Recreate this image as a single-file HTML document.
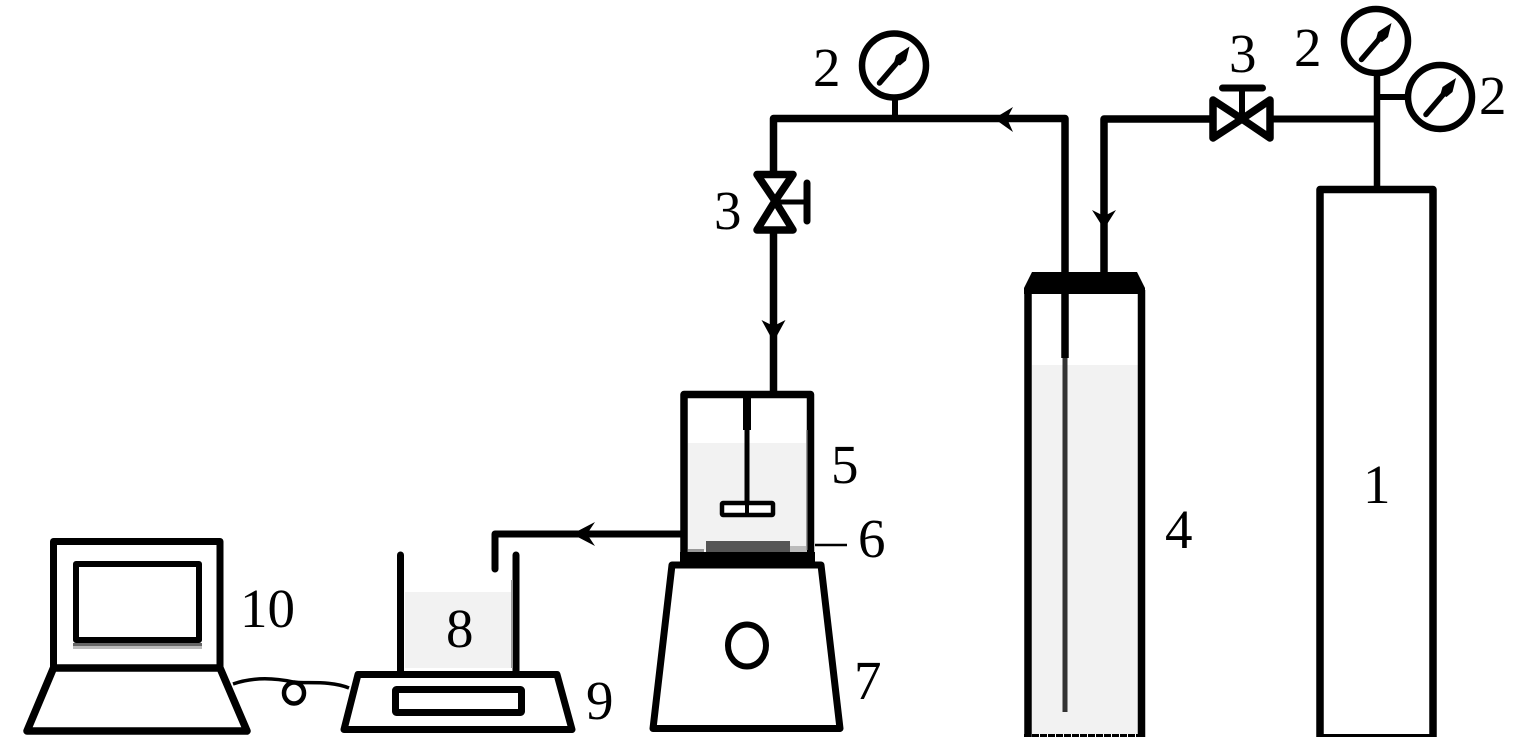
<!DOCTYPE html>
<html><head><meta charset="utf-8"><style>
html,body{margin:0;padding:0;background:#fff}
svg{display:block}
text{font-family:"Liberation Serif",serif;font-size:55px;fill:#000}
</style></head><body>
<svg width="1535" height="755" viewBox="0 0 1535 755" xmlns="http://www.w3.org/2000/svg">
<defs>
<g id="needle">
<path d="M-14.5 17.5L4 -4" fill="none" stroke="#000" stroke-width="5.5" stroke-linecap="round"/>
<path d="M15.5 -19L12 -5L6 0L0 -3L2 -10Z" fill="#000"/>
</g>
</defs>
<rect width="1535" height="755" fill="#fff"/>
<!-- liquid fills -->
<rect x="1032" y="365" width="106" height="369" fill="#f2f2f2"/>
<rect x="688" y="443" width="119" height="107" fill="#f2f2f2"/>
<rect x="405" y="592" width="107" height="76" fill="#f2f2f2"/>
<g fill="none" stroke="#000" stroke-width="7" stroke-linejoin="round">
<!-- cylinder 1 -->
<path d="M1320 737V189.5H1433V737" stroke-width="7.5"/>
<path d="M1317 735.5H1436" stroke-width="3"/>
<path d="M1377 189V72" stroke-width="6.5"/>
<path d="M1377 97H1408" stroke-width="6"/>
<path d="M1377 119H1270"/>
<circle cx="1376" cy="41" r="32" stroke-width="6.5"/>
<circle cx="1440" cy="97" r="32" stroke-width="6.5"/>
<!-- top valve -->
<path d="M1213 100L1242 119L1213 138ZM1270 100L1242 119L1270 138Z" stroke-width="7.5"/>
<path d="M1242 119V89" stroke-width="6"/>
<path d="M1222.5 88H1262.5" stroke-linecap="round"/>
<!-- pipes -->
<path d="M1213 119H1104V274" stroke-width="7.5"/>
<path d="M1065 274V118.5H773.5V174" stroke-width="7.5"/>
<path d="M895 118V98" stroke-width="6"/>
<circle cx="894" cy="65.5" r="32" stroke-width="6.5"/>
<!-- left valve -->
<path d="M757 174.5L775 201L793 174.5ZM757 230L775 201L793 230Z" stroke-width="7.5"/>
<path d="M775 202H805" stroke-width="5"/>
<path d="M807 183V221" stroke-linecap="round"/>
<path d="M773.5 232V392" stroke-width="7.5"/>
<!-- tank 4 -->
<path d="M1028 737V290M1141.5 737V290" stroke-width="7.5"/>
<path d="M1024 735.5H1145" stroke-width="3" stroke-dasharray="7 1"/>
<path d="M1065 290V358" stroke-width="7.5"/>
<!-- reactor 5 -->
<path d="M684 552V394.5H810.5V552" stroke-width="7.5"/>
<path d="M747 398V430" stroke-width="8"/>
<path d="M747 430V503" stroke-width="5"/>
<rect x="722" y="503" width="51" height="12" rx="1" fill="#fff" stroke-width="4.5"/>
<path d="M747 503V515" stroke-width="4"/>
<path d="M681 534H495V569" stroke-width="7" stroke-linecap="round"/>
<path d="M815 545H847" stroke-width="2.5"/>
<!-- stirrer 7 -->
<path d="M672 565H821L840 728.5H653Z"/>
<ellipse cx="747" cy="645.5" rx="19" ry="21" stroke-width="6"/>
<!-- beaker 8 -->
<path d="M400.5 555V672M516 555V672" stroke-linecap="round"/>
<!-- balance 9 -->
<path d="M358 674.5H557L572 729.5H344Z"/>
<rect x="395.5" y="689.5" width="126" height="23" rx="1"/>
<!-- laptop 10 -->
<rect x="53.5" y="541.5" width="166.5" height="126.5"/>
<rect x="76" y="564" width="123" height="76" stroke-width="6"/>
<path d="M53.5 668H220L247 731H27Z" stroke-width="7.5"/>
<!-- cable -->
<path d="M233 684C250 678 270 677 293 682C305 684 330 680 349 688" stroke-width="3.5"/>
<ellipse cx="294" cy="693" rx="10" ry="10.5" stroke-width="4.5"/>
</g>
<!-- dark fills -->
<path d="M1024 294V288L1032 272H1137L1145 288V294Z" fill="#000"/>
<rect x="1062.5" y="358" width="5" height="354" fill="#333"/>
<rect x="680" y="552" width="135" height="13.5" fill="#000"/>
<rect x="706" y="541" width="84" height="11" fill="#555"/>
<rect x="790" y="546" width="17" height="6" fill="#bbb"/>
<rect x="688" y="549" width="16" height="3" fill="#999"/>
<rect x="806" y="430" width="1.5" height="120" fill="#999"/>
<rect x="511" y="580" width="2" height="88" fill="#999"/>
<rect x="73" y="643" width="129" height="3" fill="#666"/>
<rect x="73" y="646" width="129" height="3" fill="#bbb"/>
<!-- arrowheads -->
<g fill="#000">
<path d="M1104 229L1092 210L1104 216L1116 210Z"/>
<path d="M773.5 342L761.5 320L773.5 326L785.5 320Z"/>
<path d="M994 118.5L1013 107L1007 118.5L1013 132Z"/>
<path d="M572 534L595 522L587 534L595 546Z"/>
</g>
<!-- gauge needles -->
<use href="#needle" x="894" y="65.5"/>
<use href="#needle" x="1376" y="42"/>
<use href="#needle" x="1440.5" y="97"/>
<!-- labels -->
<text x="813" y="86">2</text>
<text x="1294" y="66">2</text>
<text x="1479" y="114">2</text>
<text x="1229" y="72">3</text>
<text x="714" y="229">3</text>
<text x="1165" y="548">4</text>
<text x="831" y="483">5</text>
<text x="858" y="557">6</text>
<text x="854" y="699">7</text>
<text x="446" y="647">8</text>
<text x="586" y="719">9</text>
<text x="240" y="627">10</text>
<text x="1363" y="503">1</text>
</svg>
</body></html>
